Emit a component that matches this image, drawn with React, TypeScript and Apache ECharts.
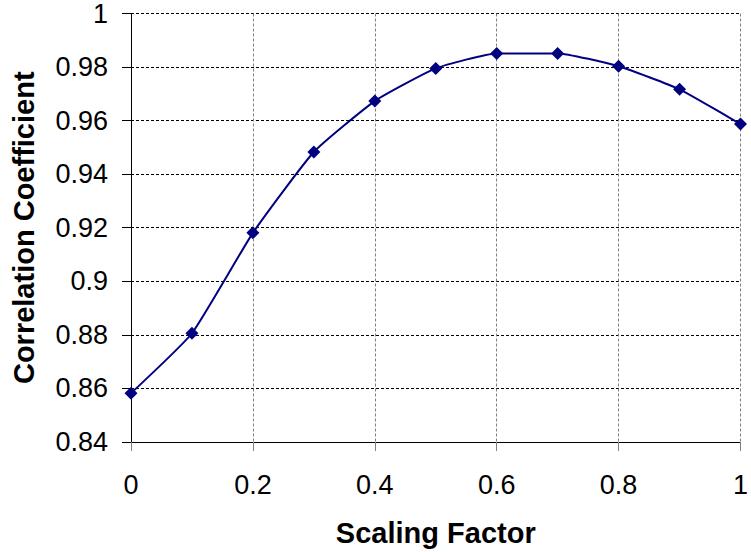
import React, { useEffect, useRef } from "react";
import * as echarts from "echarts";

const scalingFactor = [0, 0.1, 0.2, 0.3, 0.4, 0.5, 0.6, 0.7, 0.8, 0.9, 1.0];
const correlation = [0.8582, 0.8806, 0.9181, 0.9483, 0.9673, 0.9795, 0.9851, 0.9851, 0.9803, 0.9717, 0.9587];

const xTitle = "Scaling Factor";
const yTitle = "Correlation Coefficient";

export default function App() {
  const ref = useRef<HTMLDivElement>(null);
  useEffect(() => {
    if (!ref.current) return;
    const chart = echarts.init(ref.current, null, { renderer: "svg" });
    const font = "'Liberation Sans', Arial, sans-serif";
    chart.setOption({
      animation: false,
      backgroundColor: "#ffffff",
      grid: { left: 131, right: 4, top: 12, bottom: 110, containLabel: false },
      xAxis: {
        type: "value",
        min: 0,
        max: 1,
        interval: 0.2,
        name: xTitle,
        nameLocation: "middle",
        nameGap: 76,
        nameTextStyle: { fontFamily: font, fontSize: 29, fontWeight: "bold", color: "#000" },
        axisLine: { show: true, onZero: false, lineStyle: { color: "#000", width: 1 } },
        axisTick: { show: true, length: 9, lineStyle: { color: "#808080", width: 1 } },
        axisLabel: { fontFamily: font, fontSize: 27, color: "#000", margin: 29 },
        splitLine: { show: true, lineStyle: { color: "#808080", type: [3, 2], width: 1 } },
      },
      yAxis: {
        type: "value",
        min: 0.84,
        max: 1,
        interval: 0.02,
        name: yTitle,
        nameLocation: "middle",
        nameGap: 93,
        nameTextStyle: { fontFamily: font, fontSize: 29, fontWeight: "bold", color: "#000" },
        axisLine: { show: true, onZero: false, lineStyle: { color: "#000", width: 1 } },
        axisTick: { show: true, length: 9, lineStyle: { color: "#000", width: 1 } },
        axisLabel: { fontFamily: font, fontSize: 27, color: "#000", margin: 23 },
        splitLine: { show: true, lineStyle: { color: "#000", type: [3, 2], width: 1 } },
      },
      series: [
        {
          type: "line",
          data: scalingFactor.map((x, i) => [x, correlation[i]]),
          smooth: 0.15,
          symbol: "diamond",
          symbolSize: 13,
          showAllSymbol: true,
          clip: false,
          itemStyle: { color: "#000080" },
          lineStyle: { color: "#000080", width: 2 },
        },
      ],
    });
    return () => chart.dispose();
  }, []);
  return <div ref={ref} style={{ width: 751, height: 552, position: "absolute", left: 0, top: 0 }} />;
}
